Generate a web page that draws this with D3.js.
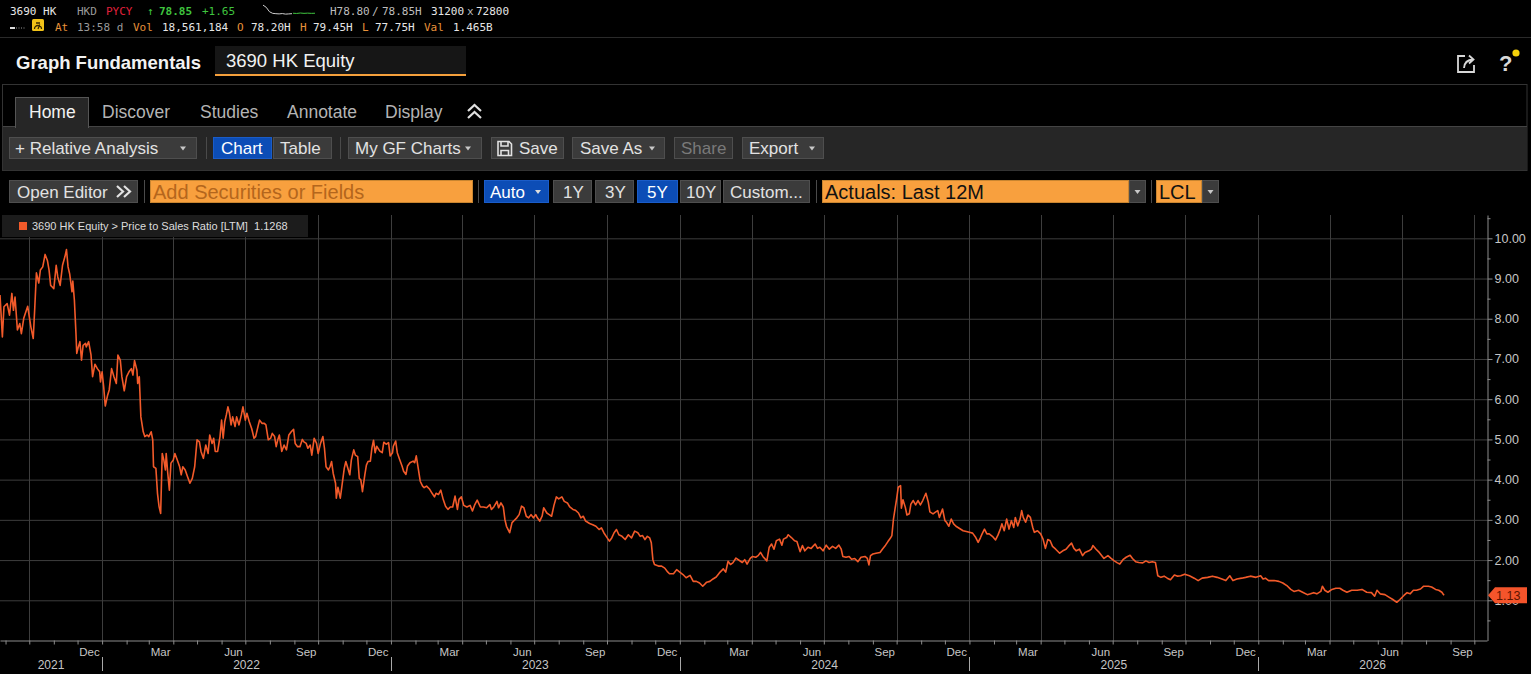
<!DOCTYPE html>
<html>
<head>
<meta charset="utf-8">
<script src="https://cdn.jsdelivr.net/npm/d3@7"></script>
<style>
  html, body { margin: 0; padding: 0; background: #000; overflow: hidden; }
  svg { display: block; }
</style>
</head>
<body>
<script>
// ---------- data ----------
const ps2021 = [
  ["2021-08-25",8.59],["2021-08-28",7.55],["2021-08-30",8.30],["2021-09-03",8.38],["2021-09-06",8.09],["2021-09-09",8.63],
  ["2021-09-11",8.21],["2021-09-13",8.54],["2021-09-16",7.72],["2021-09-19",7.88],["2021-09-21",7.63],["2021-09-24",8.01],
  ["2021-09-29",8.31],["2021-10-03",7.80],["2021-10-06",7.51],["2021-10-08",8.30],["2021-10-10",9.14],["2021-10-13",8.89],
  ["2021-10-15",9.21],["2021-10-18",9.29],["2021-10-21",9.60],["2021-10-24",9.44],["2021-10-26",9.21],["2021-10-28",8.83],
  ["2021-10-30",8.79],["2021-11-01",8.75],["2021-11-04",9.33],["2021-11-06",9.04],["2021-11-09",8.83],["2021-11-12",9.33],
  ["2021-11-15",9.54],["2021-11-17",9.72],["2021-11-19",9.29],["2021-11-21",9.12],["2021-11-24",8.67],["2021-11-25",8.94],
  ["2021-11-27",8.46],["2021-11-29",7.63],["2021-11-30",7.14],["2021-12-02",7.30],["2021-12-04",7.43],["2021-12-06",6.97],
  ["2021-12-08",7.34],["2021-12-11",7.39],["2021-12-12",7.30],["2021-12-15",7.43],["2021-12-18",7.10],["2021-12-20",6.56],
  ["2021-12-23",6.87],["2021-12-26",6.76],["2021-12-29",6.68],["2021-12-30",6.43]
];
const ps2022 = [
  ["2022-01-01",6.68],["2022-01-03",6.31],["2022-01-05",5.83],["2022-01-08",6.10],["2022-01-10",6.23],["2022-01-13",6.76],
  ["2022-01-16",6.56],["2022-01-19",6.39],["2022-01-21",7.10],["2022-01-24",6.97],["2022-01-26",6.56],["2022-01-29",6.21],
  ["2022-02-01",6.56],["2022-02-04",6.68],["2022-02-07",6.76],["2022-02-09",6.60],["2022-02-11",6.96],["2022-02-14",6.72],
  ["2022-02-15",6.39],["2022-02-17",6.56],["2022-02-19",5.56],["2022-02-22",5.19],["2022-02-24",5.07],["2022-02-27",5.11],
  ["2022-03-01",5.07],["2022-03-04",5.19],["2022-03-06",4.99],["2022-03-07",4.32],["2022-03-10",4.28],["2022-03-12",3.66],
  ["2022-03-14",3.33],["2022-03-16",3.16],["2022-03-18",4.65],["2022-03-20",4.49],["2022-03-22",4.24],["2022-03-23",4.65],
  ["2022-03-25",4.16],["2022-03-27",3.74],["2022-03-29",4.41],["2022-04-01",4.49],["2022-04-03",4.65],["2022-04-06",4.49],
  ["2022-04-09",4.32],["2022-04-11",4.12],["2022-04-13",4.32],["2022-04-16",4.24],["2022-04-19",4.07],["2022-04-22",3.91],
  ["2022-04-25",4.03],["2022-04-28",4.32],["2022-05-01",4.99],["2022-05-04",4.94],["2022-05-06",4.70],["2022-05-09",4.53],
  ["2022-05-12",4.86],["2022-05-15",4.65],["2022-05-17",5.11],["2022-05-20",4.90],["2022-05-22",5.03],["2022-05-24",4.70],
  ["2022-05-27",4.70],["2022-05-30",5.07],["2022-06-01",5.48],["2022-06-03",5.03],["2022-06-05",5.44],["2022-06-07",5.61],
  ["2022-06-09",5.81],["2022-06-11",5.65],["2022-06-13",5.36],["2022-06-15",5.56],["2022-06-18",5.32],["2022-06-20",5.56],
  ["2022-06-23",5.36],["2022-06-26",5.61],["2022-06-28",5.81],["2022-07-01",5.48],["2022-07-03",5.65],["2022-07-06",5.44],
  ["2022-07-09",5.27],["2022-07-12",5.03],["2022-07-14",5.07],["2022-07-17",5.32],["2022-07-19",5.48],["2022-07-22",5.40],
  ["2022-07-25",5.40],["2022-07-27",5.36],["2022-07-30",4.99],["2022-08-02",5.03],["2022-08-04",5.15],["2022-08-07",5.07],
  ["2022-08-09",4.82],["2022-08-11",4.99],["2022-08-13",5.11],["2022-08-16",4.70],["2022-08-19",4.86],["2022-08-22",4.74],
  ["2022-08-25",5.11],["2022-08-28",5.19],["2022-08-31",5.25],["2022-09-02",4.90],["2022-09-05",4.82],["2022-09-08",4.82],
  ["2022-09-11",5.00],["2022-09-13",4.94],["2022-09-16",4.90],["2022-09-18",4.78],["2022-09-21",4.86],["2022-09-23",4.61],
  ["2022-09-26",5.03],["2022-09-29",4.90],["2022-10-01",4.65],["2022-10-04",4.90],["2022-10-07",5.07],["2022-10-09",4.78],
  ["2022-10-11",4.32],["2022-10-14",4.24],["2022-10-16",4.32],["2022-10-18",4.45],["2022-10-20",4.16],["2022-10-23",3.91],
  ["2022-10-24",3.54],["2022-10-26",3.81],["2022-10-29",3.54],["2022-10-31",3.83],["2022-11-03",4.28],["2022-11-05",4.45],
  ["2022-11-07",4.32],["2022-11-10",4.12],["2022-11-12",4.49],["2022-11-15",4.74],["2022-11-17",4.61],["2022-11-20",4.57],
  ["2022-11-22",4.03],["2022-11-24",3.99],["2022-11-26",3.70],["2022-11-29",4.12],["2022-12-01",4.36],["2022-12-03",4.45],
  ["2022-12-06",4.46],["2022-12-08",4.79],["2022-12-10",4.98],["2022-12-12",4.67],["2022-12-14",4.83],["2022-12-18",4.71],
  ["2022-12-21",4.67],["2022-12-23",4.93],["2022-12-26",4.88],["2022-12-29",4.92],["2022-12-31",4.59]
];
const ps2023 = [
  ["2023-01-03",4.67],["2023-01-04",4.83],["2023-01-07",4.96],["2023-01-09",4.67],["2023-01-12",4.50],["2023-01-15",4.34],
  ["2023-01-17",4.21],["2023-01-20",4.13],["2023-01-22",4.34],["2023-01-25",4.42],["2023-01-29",4.46],["2023-01-31",4.42],
  ["2023-02-02",4.59],["2023-02-04",4.34],["2023-02-07",3.96],["2023-02-10",3.84],["2023-02-12",3.80],["2023-02-15",3.84],
  ["2023-02-19",3.76],["2023-02-22",3.66],["2023-02-25",3.57],["2023-02-27",3.66],["2023-03-02",3.63],["2023-03-05",3.74],
  ["2023-03-08",3.51],["2023-03-11",3.34],["2023-03-14",3.26],["2023-03-17",3.32],["2023-03-20",3.32],["2023-03-23",3.59],
  ["2023-03-26",3.26],["2023-03-28",3.51],["2023-03-31",3.57],["2023-04-03",3.36],["2023-04-07",3.32],["2023-04-11",3.36],
  ["2023-04-14",3.22],["2023-04-17",3.38],["2023-04-20",3.49],["2023-04-24",3.32],["2023-04-28",3.32],["2023-05-02",3.30],
  ["2023-05-06",3.38],["2023-05-08",3.26],["2023-05-11",3.32],["2023-05-15",3.46],["2023-05-17",3.30],["2023-05-20",3.42],
  ["2023-05-23",3.32],["2023-05-25",3.01],["2023-05-27",2.84],["2023-05-31",2.68],["2023-06-03",2.93],["2023-06-06",2.99],
  ["2023-06-09",3.05],["2023-06-12",3.13],["2023-06-15",3.34],["2023-06-18",3.30],["2023-06-21",3.09],["2023-06-24",3.05],
  ["2023-06-27",3.13],["2023-06-30",3.05],["2023-07-03",3.13],["2023-07-05",3.05],["2023-07-08",2.97],["2023-07-11",3.09],
  ["2023-07-13",3.30],["2023-07-17",3.17],["2023-07-20",3.13],["2023-07-23",3.09],["2023-07-26",3.36],["2023-07-29",3.57],
  ["2023-08-01",3.52],["2023-08-05",3.57],["2023-08-08",3.46],["2023-08-12",3.42],["2023-08-15",3.32],["2023-08-19",3.26],
  ["2023-08-22",3.24],["2023-08-26",3.17],["2023-08-29",3.05],["2023-09-01",3.09],["2023-09-04",2.97],["2023-09-09",2.91],
  ["2023-09-13",2.88],["2023-09-17",2.84],["2023-09-21",2.76],["2023-09-24",2.80],["2023-09-27",2.68],["2023-09-30",2.59],
  ["2023-10-04",2.47],["2023-10-07",2.55],["2023-10-10",2.68],["2023-10-13",2.76],["2023-10-16",2.63],["2023-10-20",2.59],
  ["2023-10-24",2.51],["2023-10-28",2.63],["2023-11-01",2.55],["2023-11-05",2.72],["2023-11-09",2.68],["2023-11-12",2.59],
  ["2023-11-15",2.61],["2023-11-18",2.51],["2023-11-21",2.59],["2023-11-24",2.55],["2023-11-26",2.43],["2023-11-28",2.01],
  ["2023-11-30",1.89],["2023-12-05",1.85],["2023-12-09",1.85],["2023-12-13",1.80],["2023-12-16",1.72],["2023-12-19",1.66],
  ["2023-12-24",1.66],["2023-12-28",1.76]
];
const ps2024 = [
  ["2024-01-01",1.70],["2024-01-05",1.64],["2024-01-09",1.56],["2024-01-14",1.62],["2024-01-18",1.47],["2024-01-22",1.47],
  ["2024-01-26",1.43],["2024-01-30",1.35],["2024-02-04",1.45],["2024-02-08",1.47],["2024-02-12",1.53],["2024-02-16",1.58],
  ["2024-02-20",1.68],["2024-02-25",1.78],["2024-02-28",1.70],["2024-03-02",1.97],["2024-03-05",1.89],["2024-03-08",1.93],
  ["2024-03-12",2.05],["2024-03-20",1.94],["2024-03-23",2.01],["2024-03-26",1.90],["2024-03-30",2.04],["2024-04-02",2.09],
  ["2024-04-06",2.07],["2024-04-09",2.11],["2024-04-12",2.19],["2024-04-15",2.09],["2024-04-20",1.98],["2024-04-23",2.32],
  ["2024-04-26",2.40],["2024-04-29",2.27],["2024-05-02",2.48],["2024-05-06",2.52],["2024-05-09",2.37],["2024-05-11",2.52],
  ["2024-05-15",2.56],["2024-05-17",2.63],["2024-05-21",2.56],["2024-05-25",2.48],["2024-05-28",2.46],["2024-06-01",2.21],
  ["2024-06-04",2.36],["2024-06-07",2.23],["2024-06-11",2.32],["2024-06-15",2.29],["2024-06-20",2.40],["2024-06-23",2.29],
  ["2024-06-26",2.32],["2024-06-30",2.23],["2024-07-04",2.37],["2024-07-08",2.27],["2024-07-12",2.34],["2024-07-16",2.29],
  ["2024-07-20",2.37],["2024-07-23",2.27],["2024-07-25",2.09],["2024-07-29",2.07],["2024-08-02",2.09],["2024-08-05",2.02],
  ["2024-08-09",2.04],["2024-08-13",1.96],["2024-08-17",2.07],["2024-08-22",2.09],["2024-08-25",2.04],["2024-08-27",1.88],
  ["2024-08-29",2.11],["2024-09-01",2.15],["2024-09-05",2.17],["2024-09-10",2.19],["2024-09-13",2.27],["2024-09-17",2.37],
  ["2024-09-20",2.46],["2024-09-23",2.54],["2024-09-25",2.61],["2024-09-27",3.02],["2024-09-29",3.27],["2024-10-01",3.52],
  ["2024-10-03",3.81],["2024-10-06",3.85],["2024-10-07",3.29],["2024-10-09",3.50],["2024-10-12",3.31],["2024-10-14",3.12],
  ["2024-10-17",3.15],["2024-10-19",3.39],["2024-10-22",3.48],["2024-10-25",3.37],["2024-10-28",3.48],["2024-10-31",3.37],
  ["2024-11-03",3.48],["2024-11-07",3.66],["2024-11-10",3.44],["2024-11-12",3.20],["2024-11-16",3.15],["2024-11-19",3.19],
  ["2024-11-22",3.23],["2024-11-24",3.06],["2024-11-28",3.27],["2024-12-01",2.98],["2024-12-03",2.94],["2024-12-06",2.84],
  ["2024-12-09",3.02],["2024-12-12",2.90],["2024-12-15",2.84],["2024-12-19",2.79],["2024-12-24",2.73],["2024-12-28",2.71]
];
const ps2025 = [
  ["2025-01-01",2.69],["2025-01-05",2.67],["2025-01-09",2.56],["2025-01-12",2.44],["2025-01-15",2.56],["2025-01-17",2.65],
  ["2025-01-20",2.77],["2025-01-23",2.65],["2025-01-26",2.65],["2025-01-30",2.59],["2025-02-03",2.50],["2025-02-06",2.62],
  ["2025-02-09",2.77],["2025-02-11",2.90],["2025-02-14",2.73],["2025-02-17",3.02],["2025-02-20",2.77],["2025-02-23",2.98],
  ["2025-02-26",2.81],["2025-02-28",3.06],["2025-03-03",2.85],["2025-03-06",3.02],["2025-03-08",3.23],["2025-03-10",3.06],
  ["2025-03-13",2.94],["2025-03-16",3.12],["2025-03-19",3.06],["2025-03-22",2.81],["2025-03-24",2.69],["2025-03-28",2.73],
  ["2025-04-01",2.65],["2025-04-04",2.52],["2025-04-07",2.29],["2025-04-10",2.51],["2025-04-13",2.48],["2025-04-16",2.34],
  ["2025-04-20",2.27],["2025-04-25",2.17],["2025-04-29",2.23],["2025-05-03",2.27],["2025-05-06",2.34],["2025-05-10",2.42],
  ["2025-05-13",2.29],["2025-05-16",2.23],["2025-05-20",2.27],["2025-05-24",2.11],["2025-05-27",2.19],["2025-06-01",2.23],
  ["2025-06-04",2.27],["2025-06-06",2.36],["2025-06-10",2.27],["2025-06-14",2.19],["2025-06-18",2.09],["2025-06-20",2.04],
  ["2025-06-25",2.11],["2025-06-29",2.04],["2025-07-03",1.98],["2025-07-07",1.93],["2025-07-10",1.90],["2025-07-14",2.01],
  ["2025-07-18",2.07],["2025-07-23",2.12],["2025-07-26",2.04],["2025-07-30",1.96],["2025-08-03",1.94],["2025-08-08",1.93],
  ["2025-08-12",1.98],["2025-08-16",1.94],["2025-08-20",1.96],["2025-08-24",1.94],["2025-08-27",1.61],["2025-08-31",1.57],
  ["2025-09-04",1.60],["2025-09-08",1.55],["2025-09-12",1.51],["2025-09-17",1.63],["2025-09-21",1.60],["2025-09-25",1.61],
  ["2025-09-30",1.65],["2025-10-06",1.61],["2025-10-12",1.55],["2025-10-17",1.49],["2025-10-22",1.55],["2025-10-29",1.57],
  ["2025-11-04",1.60],["2025-11-10",1.57],["2025-11-16",1.53],["2025-11-21",1.49],["2025-11-26",1.61],["2025-11-30",1.49],
  ["2025-12-05",1.53],["2025-12-11",1.55],["2025-12-16",1.57],["2025-12-22",1.60],["2025-12-29",1.57]
];
const ps2026 = [
  ["2026-01-04",1.61],["2026-01-07",1.53],["2026-01-10",1.55],["2026-01-14",1.49],["2026-01-21",1.49],["2026-01-27",1.47],
  ["2026-02-01",1.43],["2026-02-07",1.35],["2026-02-11",1.27],["2026-02-15",1.22],["2026-02-21",1.25],["2026-02-26",1.20],
  ["2026-03-04",1.14],["2026-03-08",1.16],["2026-03-12",1.19],["2026-03-16",1.16],["2026-03-21",1.22],["2026-03-23",1.35],
  ["2026-03-26",1.25],["2026-03-30",1.20],["2026-04-04",1.27],["2026-04-09",1.30],["2026-04-14",1.30],["2026-04-18",1.25],
  ["2026-04-23",1.20],["2026-04-29",1.25],["2026-05-06",1.25],["2026-05-12",1.27],["2026-05-18",1.20],["2026-05-24",1.19],
  ["2026-05-28",1.10],["2026-05-31",1.25],["2026-06-04",1.16],["2026-06-10",1.14],["2026-06-15",1.08],["2026-06-20",1.02],
  ["2026-06-25",0.95],["2026-06-29",1.02],["2026-07-04",1.12],["2026-07-08",1.19],["2026-07-12",1.16],["2026-07-16",1.25],
  ["2026-07-20",1.25],["2026-07-25",1.28],["2026-07-29",1.35],["2026-08-04",1.35],["2026-08-08",1.33],["2026-08-13",1.27],
  ["2026-08-17",1.25],["2026-08-21",1.20],["2026-08-23",1.14],["2026-08-24",1.1268]
];

const yTicks = [1, 2, 3, 4, 5, 6, 7, 8, 9, 10];
const labelMonths = [2, 5, 8, 11];           // Mar, Jun, Sep, Dec
const seriesName = "3690 HK Equity > Price to Sales Ratio [LTM]";
const lastValue = 1.1268;

// ---------- setup ----------
const W = 1531, H = 674;
const sans = "'Liberation Sans', Arial, sans-serif";
const narrow = "'Liberation Sans Narrow', 'Liberation Sans', Arial, sans-serif";
const mono = "'DejaVu Sans Mono', 'Liberation Mono', monospace";
const lineColor = "#f25a2a";
const gridColor = "#3d3d3d";
const axisColor = "#8c8c8c";

const parseDate = d3.timeParse("%Y-%m-%d");
const data = [].concat(ps2021, ps2022, ps2023, ps2024, ps2025, ps2026)
  .map(d => ({date: parseDate(d[0]), value: d[1]}));

const svg = d3.select("body").append("svg")
  .attr("width", W).attr("height", H)
  .style("font-family", sans);

svg.append("rect").attr("width", W).attr("height", H).attr("fill", "#000");

// ---------- quote strip ----------
const quoteRow1 = [
  {t: "3690 HK", x: 10, c: "#e6e6e6"}, {t: "HKD", x: 77, c: "#9a9a9a"}, {t: "PYCY", x: 106, c: "#e2213c"},
  {t: "\u2191", x: 147, c: "#3fc43f"}, {t: "78.85", x: 159, c: "#3fc43f", b: true}, {t: "+1.65", x: 202, c: "#3fc43f"},
  {t: "H78.80", x: 330, c: "#bdbdbd"}, {t: "/", x: 372, c: "#bdbdbd"}, {t: "78.85H", x: 382, c: "#bdbdbd"},
  {t: "31200", x: 431, c: "#e6e6e6"}, {t: "x", x: 467, c: "#bdbdbd"}, {t: "72800", x: 476, c: "#e6e6e6"}
];
const quoteRow2 = [
  {t: "At", x: 55, c: "#e8923a"}, {t: "13:58 d", x: 77, c: "#9a9a9a"}, {t: "Vol", x: 133, c: "#e8923a"},
  {t: "18,561,184", x: 162, c: "#e6e6e6"}, {t: "O", x: 237, c: "#e8923a"}, {t: "78.20H", x: 251, c: "#e6e6e6"},
  {t: "H", x: 300, c: "#e8923a"}, {t: "79.45H", x: 313, c: "#e6e6e6"}, {t: "L", x: 362, c: "#e8923a"},
  {t: "77.75H", x: 375, c: "#e6e6e6"}, {t: "Val", x: 424, c: "#e8923a"}, {t: "1.465B", x: 453, c: "#e6e6e6"}
];
const quote = svg.append("g").style("font-family", mono).style("font-size", "11px");
quote.selectAll("text.r1").data(quoteRow1).enter().append("text")
  .attr("x", d => d.x).attr("y", 15).attr("fill", d => d.c)
  .style("font-weight", d => d.b ? "bold" : "normal").text(d => d.t);
quote.selectAll("text.r2").data(quoteRow2).enter().append("text")
  .attr("x", d => d.x).attr("y", 31).attr("fill", d => d.c).text(d => d.t);

// tiny intraday sparkline
const sparkWhite = [9, 7, 3, 1.5, 1.2, 1, 1.3, 0.8, 1, 1.2];
const sparkGreen = [1.6, 1.4, 1.8, 1.5, 1.7, 1.5, 1.6];
const sx1 = d3.scaleLinear().domain([0, sparkWhite.length - 1]).range([263, 292]);
const sx2 = d3.scaleLinear().domain([0, sparkGreen.length - 1]).range([293, 315]);
const sy = d3.scaleLinear().domain([0, 10]).range([15, 4]);
quote.append("path").attr("d", d3.line().x((d, i) => sx1(i)).y(d => sy(d))(sparkWhite))
  .attr("fill", "none").attr("stroke", "#cfcfcf").attr("stroke-width", 1);
quote.append("path").attr("d", d3.line().x((d, i) => sx2(i)).y(d => sy(d))(sparkGreen))
  .attr("fill", "none").attr("stroke", "#3fc43f").attr("stroke-width", 1);

// dotted marker + yellow gauge icon
quote.append("line").attr("x1", 10).attr("x2", 15).attr("y1", 28).attr("y2", 28)
  .attr("stroke", "#ddd").attr("stroke-width", 2);
quote.append("line").attr("x1", 16).attr("x2", 26).attr("y1", 28).attr("y2", 28)
  .attr("stroke", "#999").attr("stroke-width", 1.2).attr("stroke-dasharray", "1,1.5");
quote.append("rect").attr("x", 32).attr("y", 19).attr("width", 12).attr("height", 12).attr("rx", 1.5)
  .attr("fill", "#f2c318");
quote.append("path").attr("d", "M34.5,29 A3.5,3.5 0 0 1 41.5,29 M38,29 L39.8,24.5 M36,23 h4")
  .attr("fill", "none").attr("stroke", "#3a2a00").attr("stroke-width", 1.3);

svg.append("line").attr("x1", 0).attr("x2", W).attr("y1", 37.5).attr("y2", 37.5)
  .attr("stroke", "#2a2a2a");

// ---------- title row ----------
svg.append("text").attr("x", 16).attr("y", 68.5).attr("fill", "#f2f2f2")
  .style("font-size", "18.5px").style("font-weight", "bold").text("Graph Fundamentals");
svg.append("rect").attr("x", 215).attr("y", 46).attr("width", 251).attr("height", 30).attr("fill", "#161616");
svg.append("rect").attr("x", 215).attr("y", 74).attr("width", 251).attr("height", 2).attr("fill", "#f5a03c");
svg.append("text").attr("x", 226).attr("y", 67).attr("fill", "#f2f2f2")
  .style("font-size", "18.5px").text("3690 HK Equity");

// share + help icons
svg.append("path").attr("d", "M1465,56 H1458 V72 H1474 V65")
  .attr("fill", "none").attr("stroke", "#d8d8d8").attr("stroke-width", 1.8);
svg.append("path").attr("d", "M1464,68 Q1464.5,60 1473,59.5 M1469,55.5 L1473.5,59.5 L1469,63.5")
  .attr("fill", "none").attr("stroke", "#d8d8d8").attr("stroke-width", 1.8);
svg.append("text").attr("x", 1499).attr("y", 71).attr("fill", "#d8d8d8")
  .style("font-size", "22px").style("font-weight", "bold").text("?");
svg.append("circle").attr("cx", 1516).attr("cy", 53).attr("r", 3.6).attr("fill", "#f5d10a");

// ---------- tabs + toolbar frame ----------
svg.append("rect").attr("x", 2.5).attr("y", 84.5).attr("width", 1524.5).attr("height", 86)
  .attr("fill", "#000").attr("stroke", "#333");
svg.append("rect").attr("x", 3).attr("y", 126).attr("width", 1524).attr("height", 44).attr("fill", "#262626");
svg.append("line").attr("x1", 3).attr("x2", 1527).attr("y1", 126.5).attr("y2", 126.5).attr("stroke", "#444");
svg.append("rect").attr("x", 15.5).attr("y", 97.5).attr("width", 73).attr("height", 30)
  .attr("fill", "#262626").attr("stroke", "#555");
svg.append("rect").attr("x", 16).attr("y", 125).attr("width", 72).attr("height", 4).attr("fill", "#262626");

const tabs = [
  {t: "Home", x: 29, c: "#f2f2f2"}, {t: "Discover", x: 102, c: "#b4b4b4"}, {t: "Studies", x: 200, c: "#b4b4b4"},
  {t: "Annotate", x: 287, c: "#b4b4b4"}, {t: "Display", x: 385, c: "#b4b4b4"}
];
svg.selectAll("text.tab").data(tabs).enter().append("text")
  .attr("x", d => d.x).attr("y", 118).attr("fill", d => d.c)
  .style("font-size", "17.5px").text(d => d.t);
svg.append("path").attr("d", "M468,111 L474.5,105 L481,111 M468,118 L474.5,112 L481,118")
  .attr("fill", "none").attr("stroke", "#e0e0e0").attr("stroke-width", 2.2);

// buttons
function drawButton(b) {
  const g = svg.append("g");
  g.append("rect").attr("x", b.x + 0.5).attr("y", b.y + 0.5).attr("width", b.w - 1).attr("height", b.h - 1)
    .attr("fill", b.fill || "#3b3b3b").attr("stroke", b.stroke || "#4e4e4e");
  if (b.label) {
    g.append("text").attr("x", b.tx).attr("y", b.y + b.h / 2 + (b.size === 20 ? 7 : 6))
      .attr("fill", b.color || "#e2e2e2").style("font-size", (b.size || 17) + "px").text(b.label);
  }
  if (b.caret) {
    g.append("path").attr("d", `M${b.caret},${b.y + b.h / 2 - 1.5} h6 l-3,4 z`)
      .attr("fill", b.caretColor || "#c8c8c8");
  }
}
const sep = xs => xs.forEach(xp => svg.append("line").attr("x1", xp + 0.5).attr("x2", xp + 0.5)
  .attr("y1", 0).attr("y2", 0).attr("stroke", "#444"));

const blue = "#0c4db6", orange = "#f8a03e";
const rowA = [
  {x: 9, w: 188, label: "+ Relative Analysis", tx: 15, caret: 180},
  {x: 213, w: 59, label: "Chart", tx: 221, fill: blue, stroke: "#1a5cc8", color: "#fff"},
  {x: 273, w: 59, label: "Table", tx: 280},
  {x: 348, w: 134, label: "My GF Charts", tx: 355, caret: 465},
  {x: 491, w: 73, label: "Save", tx: 519},
  {x: 572, w: 93, label: "Save As", tx: 580, caret: 649},
  {x: 674, w: 59, label: "Share", tx: 681, color: "#7a7a7a", fill: "#333"},
  {x: 742, w: 82, label: "Export", tx: 749, caret: 809}
].map(b => Object.assign({y: 137, h: 22}, b));
const rowB = [
  {x: 9, w: 129, label: "Open Editor", tx: 17},
  {x: 150, w: 323, label: "Add Securities or Fields", tx: 153, fill: orange, stroke: "#c98530", color: "#b4661c", size: 20},
  {x: 484, w: 65, label: "Auto", tx: 490, fill: blue, stroke: "#1a5cc8", color: "#fff", caret: 535, caretColor: "#ddd"},
  {x: 553, w: 39, label: "1Y", tx: 563},
  {x: 595, w: 39, label: "3Y", tx: 605},
  {x: 637, w: 41, label: "5Y", tx: 647, fill: blue, stroke: "#1a5cc8", color: "#fff"},
  {x: 680, w: 41, label: "10Y", tx: 686},
  {x: 723, w: 87, label: "Custom...", tx: 730},
  {x: 822, w: 307, label: "Actuals: Last 12M", tx: 825, fill: orange, stroke: "#c98530", color: "#111", size: 20},
  {x: 1129, w: 17, caret: 1134.5},
  {x: 1156, w: 46, label: "LCL", tx: 1159, fill: orange, stroke: "#c98530", color: "#111", size: 20},
  {x: 1202, w: 17, caret: 1207.5}
].map(b => Object.assign({y: 180, h: 23}, b));
rowA.concat(rowB).forEach(drawButton);

// separators between groups
[[206, 137, 159], [340, 137, 159], [144, 180, 203], [478, 180, 203], [816, 180, 203], [1151, 180, 203]]
  .forEach(s => svg.append("line").attr("x1", s[0] + 0.5).attr("x2", s[0] + 0.5)
    .attr("y1", s[1]).attr("y2", s[2]).attr("stroke", "#4a4a4a"));

// floppy icon on Save, chevrons on Open Editor
svg.append("path").attr("d", "M498,141.5 h11 l2.5,2.5 v11.5 h-13.5 z M501,141.5 v4.5 h7 v-4.5 M501,155.5 v-5 h7.5 v5")
  .attr("fill", "none").attr("stroke", "#e2e2e2").attr("stroke-width", 1.6);
svg.append("path").attr("d", "M117,186 L123,191.5 L117,197 M124,186 L130,191.5 L124,197")
  .attr("fill", "none").attr("stroke", "#e2e2e2").attr("stroke-width", 2.2);

// ---------- chart ----------
const plot = {left: 0, right: 1487, top: 215, bottom: 640.5};

const x = d3.scaleTime()
  .domain([parseDate("2021-08-25"), parseDate("2026-10-17")])
  .range([plot.left, plot.right]);
const y = d3.scaleLinear()
  .domain([0, 10.58])
  .range([plot.bottom, plot.top]);

// gridlines
svg.append("g").selectAll("line").data(yTicks).enter().append("line")
  .attr("x1", plot.left).attr("x2", plot.right)
  .attr("y1", d => y(d) + 0.5).attr("y2", d => y(d) + 0.5)
  .attr("stroke", gridColor);
svg.append("g").selectAll("line").data(x.ticks(d3.timeMonth.every(3))).enter().append("line")
  .attr("x1", d => Math.round(x(d)) + 0.5).attr("x2", d => Math.round(x(d)) + 0.5)
  .attr("y1", plot.top).attr("y2", plot.bottom)
  .attr("stroke", gridColor);

// legend
svg.append("rect").attr("x", 2).attr("y", 215).attr("width", 306).attr("height", 22).attr("fill", "#1c1c1c");
svg.append("rect").attr("x", 19).attr("y", 222).attr("width", 8).attr("height", 8).attr("fill", lineColor);
svg.append("text").attr("x", 32).attr("y", 230).attr("fill", "#dcdcdc")
  .style("font-size", "11px").attr("xml:space", "preserve")
  .text(seriesName + "  " + d3.format(".4f")(lastValue));

// line
const valueline = d3.line()
  .x(d => x(d.date))
  .y(d => y(d.value));
svg.append("path")
  .datum(data)
  .attr("fill", "none")
  .attr("stroke", lineColor)
  .attr("stroke-width", 1.6)
  .attr("stroke-linejoin", "round")
  .attr("d", valueline);

// y axis (right)
const yAxis = svg.append("g").attr("transform", `translate(${plot.right + 0.5},0)`)
  .call(d3.axisRight(y).tickValues(yTicks).tickSize(5).tickSizeOuter(0).tickPadding(2)
    .tickFormat(d3.format(".2f")));
yAxis.select(".domain").attr("stroke", axisColor);
yAxis.selectAll(".tick line").attr("stroke", axisColor);
yAxis.selectAll(".tick text").attr("fill", "#c6c6c6")
  .style("font-family", narrow).style("font-size", "12.5px");
const yMinor = svg.append("g").attr("transform", `translate(${plot.right + 0.5},0)`)
  .call(d3.axisRight(y).tickValues(d3.range(0.5, 10.6, 1)).tickSize(3).tickSizeOuter(0).tickFormat(""));
yMinor.select(".domain").remove();
yMinor.selectAll(".tick line").attr("stroke", axisColor);

// x axis
const xAxis = svg.append("g").attr("transform", `translate(0,${plot.bottom})`)
  .call(d3.axisBottom(x).ticks(d3.timeMonth.every(1)).tickSize(4).tickSizeOuter(0).tickFormat(""));
xAxis.select(".domain").attr("stroke", axisColor);
xAxis.selectAll(".tick line").attr("stroke", axisColor);

const [x0, x1] = x.domain();
const monthMarks = d3.timeMonth.range(x0, x1)
  .filter(d => labelMonths.includes(d.getMonth()) && d3.timeMonth.offset(d, -2) >= x0);
svg.append("g").selectAll("text").data(monthMarks).enter().append("text")
  .attr("x", d => x(d3.timeDay.offset(d, 15)))
  .attr("y", 656)
  .attr("text-anchor", "middle")
  .attr("fill", "#c6c6c6")
  .style("font-family", narrow).style("font-size", "11.5px")
  .text(d3.timeFormat("%b"));

const years = d3.timeYear.range(d3.timeYear.floor(x0), x1);
svg.append("g").selectAll("text").data(years).enter().append("text")
  .attr("x", d => {
    const a = d < x0 ? x0 : d;
    const b = d3.timeYear.offset(d, 1) > x1 ? x1 : d3.timeYear.offset(d, 1);
    return (x(a) + x(b)) / 2;
  })
  .attr("y", 669)
  .attr("text-anchor", "middle")
  .attr("fill", "#c6c6c6")
  .style("font-family", narrow).style("font-size", "12px")
  .text(d3.timeFormat("%Y"));
svg.append("g").selectAll("line").data(years.filter(d => d > x0)).enter().append("line")
  .attr("x1", d => Math.round(x(d)) + 0.5).attr("x2", d => Math.round(x(d)) + 0.5)
  .attr("y1", 657).attr("y2", 671)
  .attr("stroke", "#a8a8a8");

// last value tag
const ty = y(lastValue);
svg.append("path")
  .attr("d", `M${plot.right + 1},${ty} L${plot.right + 8},${ty - 8} H1527 V${ty + 8} H${plot.right + 8} Z`)
  .attr("fill", "#f4542b");
svg.append("text").attr("x", 1496).attr("y", ty + 4.5).attr("fill", "#5e1400")
  .style("font-family", narrow).style("font-size", "12.5px")
  .text(d3.format(".2f")(lastValue));
</script>
</body>
</html>
